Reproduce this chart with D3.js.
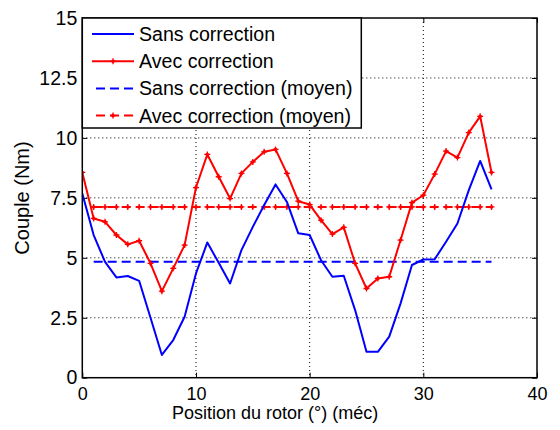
<!DOCTYPE html>
<html>
<head>
<meta charset="utf-8">
<script src="https://cdn.jsdelivr.net/npm/d3@7"></script>
<style>
  html, body { margin: 0; padding: 0; background: #fff; }
  svg { display: block; font-family: "Liberation Sans", Arial, Helvetica, sans-serif; }
</style>
</head>
<body>
<svg id="chart" width="560" height="430"></svg>
<script>
// Rotor position (mechanical degrees)
const positions = [0,1,2,3,4,5,6,7,8,9,10,11,12,13,14,15,16,17,18,19,20,21,22,23,24,25,26,27,28,29,30,31,32,33,34,35,36];
// Torque without correction (Nm)
const sansCorrection = [7.68,5.95,4.83,4.18,4.24,4.04,2.5,0.95,1.57,2.54,4.35,5.64,4.79,3.93,5.32,6.29,7.2,8.06,7.33,6.02,5.95,4.9,4.21,4.25,2.82,1.08,1.08,1.71,3.1,4.7,4.93,4.94,5.67,6.43,7.82,9.04,7.85];
// Torque with correction (Nm)
const avecCorrection = [8.56,6.64,6.5,5.95,5.56,5.71,4.77,3.61,4.56,5.53,7.93,9.31,8.38,7.47,8.52,9.0,9.42,9.52,8.52,7.36,7.22,6.57,5.99,6.27,4.77,3.72,4.14,4.21,5.74,7.3,7.61,8.49,9.45,9.18,10.22,10.9,8.56];
// Mean torque values and the positions over which they are drawn
const meanSans = 4.84;
const meanAvec = 7.12;
const meanPositions = [1,2,3,4,5,6,7,8,9,10,11,12,13,14,15,16,17,18,19,20,21,22,23,24,25,26,27,28,29,30,31,32,33,34,35,36];
// Axis ticks
const xTicks = [0,10,20,30,40];
const yTicks = [0,2.5,5,7.5,10,12.5,15];
const yTickLabels = ["0","2.5","5","7.5","10","12.5","15"];
const legendLabels = ["Sans correction","Avec correction","Sans correction (moyen)","Avec correction (moyen)"];

const svg = d3.select("#chart");
const pLeft = 82.3, pRight = 537, pTop = 18, pBottom = 377.7;

const x = d3.scaleLinear().domain([0, 40]).range([pLeft, pRight]);
const y = d3.scaleLinear().domain([0, 15]).range([pBottom, pTop]);

const FONT = "Liberation Sans, Arial, sans-serif";

// dotted grid
const grid = svg.append("g").attr("stroke", "#000").attr("stroke-width", 1)
  .attr("stroke-dasharray", "1,3");
xTicks.slice(1, -1).forEach(t => {
  grid.append("line").attr("x1", x(t)).attr("x2", x(t)).attr("y1", pTop).attr("y2", pBottom);
});
yTicks.slice(1, -1).forEach(t => {
  grid.append("line").attr("x1", pLeft).attr("x2", pRight).attr("y1", y(t)).attr("y2", y(t));
});

// axes (inward ticks, box on)
const axB = svg.append("g").attr("transform", `translate(0,${pBottom})`)
  .call(d3.axisBottom(x).tickValues(xTicks).tickSize(-5).tickPadding(10).tickFormat(d3.format("d")));
const axT = svg.append("g").attr("transform", `translate(0,${pTop})`)
  .call(d3.axisTop(x).tickValues(xTicks).tickSize(-5).tickFormat(""));
const axL = svg.append("g").attr("transform", `translate(${pLeft},0)`)
  .call(d3.axisLeft(y).tickValues(yTicks).tickSize(-5).tickPadding(5).tickFormat((d, i) => yTickLabels[i]));
const axR = svg.append("g").attr("transform", `translate(${pRight},0)`)
  .call(d3.axisRight(y).tickValues(yTicks).tickSize(-5).tickFormat(""));
[axB, axT, axL, axR].forEach(a => {
  a.select(".domain").remove();
  a.selectAll(".tick line").attr("stroke", "#000").attr("stroke-width", 1);
  a.selectAll("text").attr("fill", "#000").attr("font-family", FONT);
});
axB.selectAll("text").attr("font-size", 18);
axL.selectAll("text").attr("font-size", 19.5);

// clip for series
svg.append("defs").append("clipPath").attr("id", "plotclip")
  .append("rect").attr("x", pLeft).attr("y", pTop).attr("width", pRight - pLeft).attr("height", pBottom - pTop);

const line = d3.line().x(d => x(d[0])).y(d => y(d[1]));
const plot = svg.append("g").attr("clip-path", "url(#plotclip)");

const blueData = positions.map((p, i) => [p, sansCorrection[i]]);
const redData = positions.map((p, i) => [p, avecCorrection[i]]);
const blueMean = meanPositions.map(p => [p, meanSans]);
const redMean = meanPositions.map(p => [p, meanAvec]);

function marker(g, px, py, color) {
  g.append("path")
    .attr("d", `M${px - 3},${py}H${px + 3}M${px},${py - 3}V${py + 3}`)
    .attr("stroke", color).attr("stroke-width", 1.3);
  g.append("circle").attr("cx", px).attr("cy", py).attr("r", 1.8).attr("fill", color);
}

plot.append("path").datum(blueMean).attr("d", line)
  .attr("fill", "none").attr("stroke", "#0000ff").attr("stroke-width", 2)
  .attr("stroke-dasharray", "9,5");
plot.append("path").datum(redMean).attr("d", line)
  .attr("fill", "none").attr("stroke", "#ff0000").attr("stroke-width", 2)
  .attr("stroke-dasharray", "9,5");
const redMeanMarks = plot.append("g");
redMean.forEach(d => marker(redMeanMarks, x(d[0]), y(d[1]), "#ff0000"));

plot.append("path").datum(blueData).attr("d", line)
  .attr("fill", "none").attr("stroke", "#0000ff").attr("stroke-width", 2)
  .attr("stroke-linejoin", "round");
plot.append("path").datum(redData).attr("d", line)
  .attr("fill", "none").attr("stroke", "#ff0000").attr("stroke-width", 2)
  .attr("stroke-linejoin", "round");
const redMarks = plot.append("g");
redData.forEach(d => marker(redMarks, x(d[0]), y(d[1]), "#ff0000"));

// axis box
svg.append("rect").attr("x", pLeft).attr("y", pTop).attr("width", pRight - pLeft).attr("height", pBottom - pTop)
  .attr("fill", "none").attr("stroke", "#000").attr("stroke-width", 1.5);

// axis titles
svg.append("text").attr("x", 172).attr("y", 419).attr("text-anchor", "start")
  .attr("font-size", 18).attr("font-family", FONT).text("Position du rotor (°) (méc)");
svg.append("text").attr("transform", `translate(29,198) rotate(-90)`)
  .attr("text-anchor", "middle").attr("font-size", 20).attr("font-family", FONT).text("Couple (Nm)");

// legend
const lg = svg.append("g");
lg.append("rect").attr("x", pLeft).attr("y", pTop).attr("width", 279).attr("height", 110)
  .attr("fill", "#fff").attr("stroke", "#000").attr("stroke-width", 1.5);
const legendStyles = [
  { color: "#0000ff", dash: null, mark: false },
  { color: "#ff0000", dash: null, mark: true },
  { color: "#0000ff", dash: "9,5", mark: false },
  { color: "#ff0000", dash: "9,5", mark: true }
];
legendLabels.forEach((lab, i) => {
  const cy = 34 + i * 27.2;
  const st = legendStyles[i];
  const x0 = st.dash ? 96 : 92;
  lg.append("line").attr("x1", x0).attr("x2", 134).attr("y1", cy).attr("y2", cy)
    .attr("stroke", st.color).attr("stroke-width", 2)
    .attr("stroke-dasharray", st.dash);
  if (st.mark) marker(lg, 113, cy, st.color);
  lg.append("text").attr("x", 139).attr("y", cy + 7).attr("font-size", 19.6)
    .attr("font-family", FONT).text(lab);
});
</script>
</body>
</html>
